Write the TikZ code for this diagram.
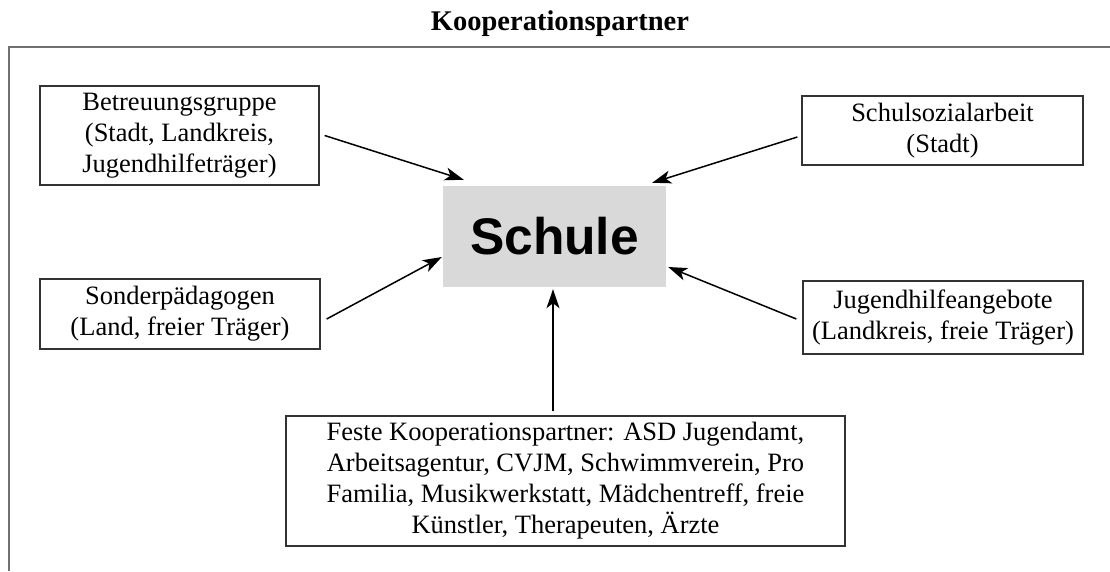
\documentclass[tikz,border=0pt]{standalone}
\usepackage{fontspec}
\setmainfont{Liberation Serif}
\newfontfamily\schulefont{Liberation Sans}
\usetikzlibrary{arrows.meta}
\definecolor{framegray}{HTML}{707070}
\definecolor{boxgray}{HTML}{333333}
\definecolor{schulegray}{HTML}{D9D9D9}
\begin{document}
\begin{tikzpicture}[x=1pt,y=-1pt,
  partner/.style={draw=boxgray,line width=1.3pt,inner sep=0pt,align=center,
    font=\fontsize{26.5}{31}\selectfont},
  schulebox/.style={fill=schulegray,inner sep=0pt,minimum width=223pt,minimum height=101pt,
    font=\schulefont\bfseries\fontsize{51.5}{60}\selectfont},
  link/.style={line width=1.5pt,-{Stealth[length=19pt,width=13pt,inset=5pt]}},
  titletext/.style={font=\bfseries\fontsize{28.5}{33}\selectfont,inner sep=0pt,anchor=base}]
\useasboundingbox (0,0) rectangle (1110,571);
% frame (only top and left visible)
\coordinate (fr1) at (1110,47);
\coordinate (fr2) at (9,47);
\coordinate (fr3) at (9,571);
\draw[framegray,line width=1.5pt] (fr1) -- (fr2) -- (fr3);
\node[titletext] (title) at (560,30) {Kooperationspartner};
% central node
\node[schulebox] (schule) at (554.5,236.5) {Schule};
% partners
\node[partner,minimum width=279pt,minimum height=99pt] (betr) at (179.5,135.5)
  {Betreuungsgruppe\\(Stadt, Landkreis,\\Jugendhilfeträger)};
\node[partner,minimum width=281pt,minimum height=69pt] (sozial) at (942.5,130.5)
  {Schulsozialarbeit\\(Stadt)};
\node[partner,minimum width=280pt,minimum height=70pt] (sonder) at (180,314)
  {Sonderpädagogen\\(Land, freier Träger)};
\node[partner,minimum width=280pt,minimum height=73pt] (jugend) at (943,317.5)
  {Jugendhilfeangebote\\(Landkreis, freie Träger)};
\node[partner,minimum width=559pt,minimum height=130pt] (feste) at (565.5,481)
  {Feste Kooperationspartner: ASD Jugendamt,\\Arbeitsagentur, CVJM, Schwimmverein, Pro\\Familia, Musikwerkstatt, Mädchentreff, freie\\Künstler, Therapeuten, Ärzte};
% connectors
\draw[link] ([xshift=5pt]betr.east) -- ([xshift=21pt,yshift=6pt]schule.north west);
\draw[link] ([xshift=-4pt,yshift=-6.5pt]sozial.west) -- ([xshift=-14pt,yshift=3pt]schule.north east);
\draw[link] ([xshift=6pt,yshift=-5pt]sonder.east) -- ([xshift=-1pt,yshift=-20.5pt]schule.west);
\draw[link] ([xshift=-6pt,yshift=-1.5pt]jugend.west) -- ([xshift=2pt,yshift=-30.5pt]schule.east);
\draw[link] ([xshift=-12.5pt,yshift=4pt]feste.north) -- ([xshift=-1.5pt,yshift=-2pt]schule.south);
\end{tikzpicture}
\end{document}
